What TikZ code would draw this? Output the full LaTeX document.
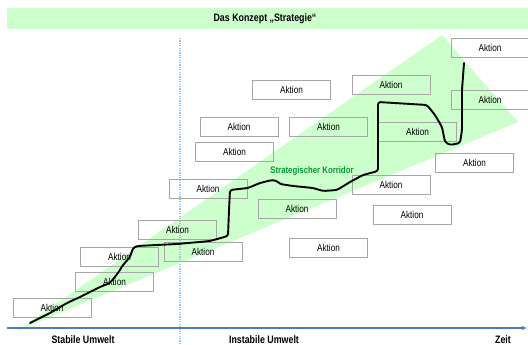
\documentclass[tikz,border=0pt]{standalone}
\usepackage{fontspec}
\setmainfont[FakeStretch=0.82]{Liberation Sans}
\usetikzlibrary{arrows.meta}
\definecolor{titlegreen}{HTML}{CCFFCC}
\definecolor{wedgegreen}{HTML}{CCFFCC}
\definecolor{boxgray}{HTML}{A6A6A6}
\definecolor{axisblue}{HTML}{4A7EBB}
\definecolor{dotblue}{HTML}{9DC3E6}
\definecolor{korridor}{HTML}{009A2E}
\tikzset{
  actbox/.style={draw=boxgray, line width=0.8pt, minimum width=78pt,
    minimum height=19pt, inner sep=0pt, font=\fontsize{10}{12}\selectfont},
  axislabel/.style={font=\bfseries\fontsize{10.8}{12}\selectfont},
  pathline/.style={line width=1.9pt, rounded corners=2.5pt, line join=round, line cap=round}
}
\begin{document}
\begin{tikzpicture}[x=1pt,y=-1pt]
\useasboundingbox (0,0) rectangle (528,345);

% title bar
\fill[titlegreen] (7,8) rectangle (528,29);
\node[font=\bfseries\fontsize{10.8}{12}\selectfont] (title) at (265,18.5) {Das Konzept „Strategie“};

% strategic corridor wedge
\fill[wedgegreen] (17,331) -- (442,35) -- (518,122) -- cycle;

% border between stable and unstable environment
\draw[dotblue, line width=1.3pt, dash pattern=on 1.2pt off 1.2pt] (180,38) -- (180,345);

% time axis
\coordinate (ax0) at (7,328);
\coordinate (ax1) at (527,328);
\draw[axisblue, line width=1.1pt, -{Latex[length=5pt,width=4.5pt]}] (ax0) -- (ax1);
\node[axislabel] (stab) at (83,340) {Stabile Umwelt};
\node[axislabel] (instab) at (264,340) {Instabile Umwelt};
\node[axislabel] (zeit) at (503,340) {Zeit};

% actions
\node[actbox] (a1) at (52,308) {Aktion};
\node[actbox] (a2) at (114.5,282) {Aktion};
\node[actbox] (a3) at (119.5,256.5) {Aktion};
\node[actbox] (a4) at (177.5,230) {Aktion};
\node[actbox] (a5) at (203,251.5) {Aktion};
\node[actbox] (a6) at (208,188.5) {Aktion};
\node[actbox] (a7) at (234.5,152) {Aktion};
\node[actbox] (a8) at (239,126.5) {Aktion};
\node[actbox] (a9) at (328.5,126.5) {Aktion};
\node[actbox] (a10) at (297,209) {Aktion};
\node[actbox] (a11) at (328.5,248) {Aktion};
\node[actbox] (a12) at (291.5,90) {Aktion};
\node[actbox] (a13) at (391,85) {Aktion};
\node[actbox] (a14) at (417.5,131.5) {Aktion};
\node[actbox] (a15) at (391,185) {Aktion};
\node[actbox] (a16) at (412,214.5) {Aktion};
\node[actbox] (a17) at (490,48) {Aktion};
\node[actbox] (a18) at (490,100) {Aktion};
\node[actbox] (a19) at (474.5,162.5) {Aktion};

% corridor label
\node[text=korridor, font=\bfseries\fontsize{9.5}{11}\selectfont] (kor) at (312,171) {Strategischer Korridor};

% actual strategy path
\draw[pathline] (30,323) -- (50,313) -- (67,303) -- (80,297) -- (100,287) -- (110,283)
  -- (118,273) -- (123,265) -- (130,257) -- (133,248) -- (137,246) -- (177,244)
  -- (210,241) -- (228,236) -- (229,210) -- (230,190) -- (248,188) -- (260,183)
  -- (272,180) -- (277,181) -- (280,184) -- (293,186) -- (313,188) -- (323,191)
  -- (337,190) -- (350,182) -- (363,175) -- (378,171) -- (378,102) -- (427,105)
  -- (435,115) -- (442,127) -- (445,142) -- (450,145) -- (460,143) -- (462,130)
  -- (462,90) -- (464,63);
\end{tikzpicture}
\end{document}
